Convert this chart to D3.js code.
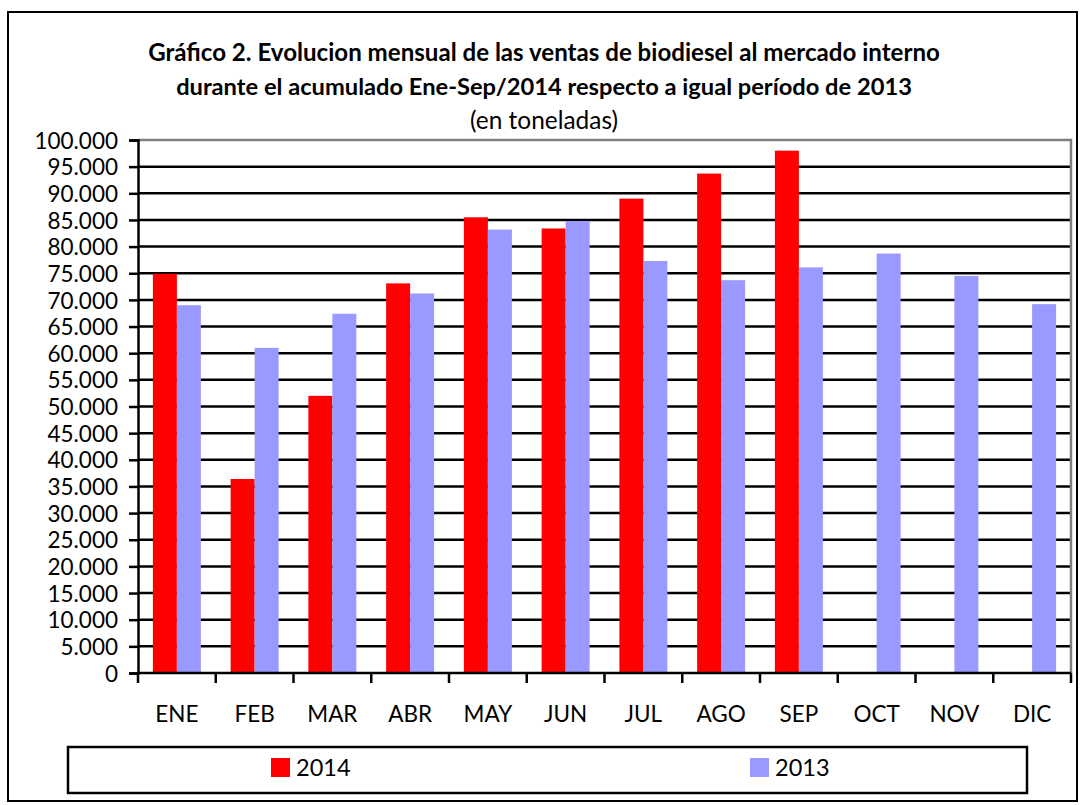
<!DOCTYPE html>
<html>
<head>
<meta charset="utf-8">
<script src="https://cdn.jsdelivr.net/npm/d3@7"></script>
<style>
  body { margin: 0; background: #fff; }
  text { font-family: Lato, "Open Sans", sans-serif; fill: #000; }
</style>
</head>
<body>
<div id="chart"></div>
<script>
// Ventas de biodiesel al mercado interno (toneladas)
const months = ["ENE", "FEB", "MAR", "ABR", "MAY", "JUN", "JUL", "AGO", "SEP", "OCT", "NOV", "DIC"];
const series = ["2014", "2013"];
const values2014 = [74900, 36400, 52000, 73100, 85500, 83400, 89000, 93700, 98000, null, null, null];
const values2013 = [69000, 61000, 67400, 71200, 83200, 84800, 77300, 73700, 76100, 78700, 74500, 69200];
const yTicks = d3.range(0, 100001, 5000);
const colors = { "2014": "#ff0000", "2013": "#9999ff" };

const titleLines = [
    "Gráfico 2. Evolucion mensual de las ventas de biodiesel al mercado interno",
    "durante el acumulado Ene-Sep/2014 respecto a igual período de 2013"
];
const subtitle = "(en toneladas)";

const width = 1081, height = 805;
const margin = { top: 140, right: 10, bottom: 132, left: 138 };

const svg = d3.select("#chart").append("svg")
    .attr("width", width)
    .attr("height", height);

svg.append("rect")
    .attr("width", width).attr("height", height)
    .attr("fill", "#fff");

// outer frame
svg.append("rect")
    .attr("x", 8).attr("y", 12)
    .attr("width", 1069).attr("height", 789)
    .attr("fill", "none")
    .attr("stroke", "#000")
    .attr("stroke-width", 2);

const x0 = d3.scaleBand()
    .domain(months)
    .range([margin.left, width - margin.right])
    .padding(0);

const x1 = d3.scaleBand()
    .domain(series)
    .range([0, x0.bandwidth()])
    .paddingInner(0)
    .paddingOuter(0.62);

const y = d3.scaleLinear()
    .domain([0, 100000])
    .range([height - margin.bottom, margin.top]);

const locale = d3.formatLocale({ decimal: ",", thousands: ".", grouping: [3], currency: ["$", ""] });
const fmt = locale.format(",");

// gridlines
svg.append("g")
    .selectAll("line")
    .data(yTicks.filter(d => d > 0 && d < 100000))
    .join("line")
    .attr("x1", margin.left).attr("x2", width - margin.right)
    .attr("y1", d => y(d)).attr("y2", d => y(d))
    .attr("stroke", "#000")
    .attr("stroke-width", 2.5);

// plot area border (top / right)
svg.append("path")
    .attr("d", `M${margin.left},${y(100000)}H${width - margin.right}V${y(0)}`)
    .attr("fill", "none")
    .attr("stroke", "#808080")
    .attr("stroke-width", 2.5);

// bars
const rows = months.map((m, i) => ({ month: m, "2014": values2014[i], "2013": values2013[i] }));

svg.append("g")
    .selectAll("g")
    .data(rows)
    .join("g")
    .attr("transform", d => `translate(${x0(d.month)},0)`)
    .selectAll("rect")
    .data(d => series.filter(s => d[s] != null).map(s => ({ key: s, value: d[s] })))
    .join("rect")
    .attr("x", d => x1(d.key))
    .attr("width", x1.bandwidth())
    .attr("y", d => y(d.value))
    .attr("height", d => y(0) - y(d.value))
    .attr("fill", d => colors[d.key]);

// y axis
const yAxis = svg.append("g")
    .attr("transform", `translate(${margin.left},0)`)
    .call(d3.axisLeft(y).tickValues(yTicks).tickFormat(fmt).tickSize(9).tickPadding(11));
yAxis.select(".domain").attr("stroke", "#000").attr("stroke-width", 2.5);
yAxis.selectAll(".tick line").attr("stroke", "#000").attr("stroke-width", 2.5);
yAxis.selectAll(".tick text")
    .attr("font-size", 22.5)
    .attr("font-family", "Lato, sans-serif")
    .attr("dy", "0.36em");

// x axis: ticks at category boundaries
const xAxisY = y(0);
svg.append("line")
    .attr("x1", margin.left).attr("x2", width - margin.right)
    .attr("y1", xAxisY).attr("y2", xAxisY)
    .attr("stroke", "#000").attr("stroke-width", 2.5);

const boundaries = months.map(m => x0(m)).concat([x0.range()[1]]);
svg.append("g")
    .selectAll("line")
    .data(boundaries)
    .join("line")
    .attr("x1", d => d).attr("x2", d => d)
    .attr("y1", xAxisY).attr("y2", xAxisY + 10)
    .attr("stroke", "#000").attr("stroke-width", 2.5);

svg.append("g")
    .selectAll("text")
    .data(months)
    .join("text")
    .attr("x", d => x0(d) + x0.bandwidth() / 2)
    .attr("y", 722)
    .attr("text-anchor", "middle")
    .attr("font-size", 22.5)
    .text(d => d);

// titles
const titleTargets = [792, 736];
titleLines.forEach((t, i) => {
    const txt = svg.append("text")
        .attr("x", 544)
        .attr("y", 61 + i * 34)
        .attr("text-anchor", "middle")
        .attr("font-weight", "bold")
        .attr("font-size", 22)
        .text(t);
    // fit to the width of the original title line
    const w = txt.node().getComputedTextLength();
    txt.attr("font-size", 22 * titleTargets[i] / w);
});

const sub = svg.append("text")
    .attr("x", 544)
    .attr("y", 129)
    .attr("text-anchor", "middle")
    .attr("font-size", 22)
    .text(subtitle);
sub.attr("font-size", 22 * 148 / sub.node().getComputedTextLength());

// legend
svg.append("rect")
    .attr("x", 68).attr("y", 747)
    .attr("width", 959).attr("height", 46)
    .attr("fill", "#fff")
    .attr("stroke", "#000")
    .attr("stroke-width", 2.5);

const legendX = { "2014": 271, "2013": 750 };
const legend = svg.append("g")
    .selectAll("g")
    .data(series)
    .join("g")
    .attr("transform", d => `translate(${legendX[d]},758)`);

legend.append("rect")
    .attr("width", 19).attr("height", 19)
    .attr("fill", d => colors[d]);

legend.append("text")
    .attr("x", 25)
    .attr("y", 18)
    .attr("font-size", 23.5)
    .text(d => d);
</script>
</body>
</html>
